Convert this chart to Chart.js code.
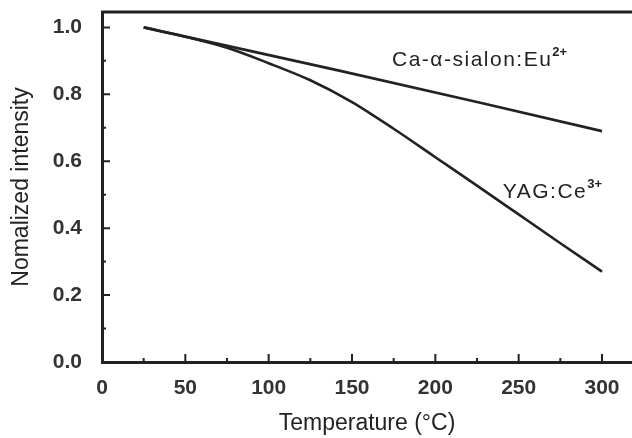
<!DOCTYPE html>
<html lang="en">
<head>
<meta charset="UTF-8" />
<title>Normalized intensity vs temperature</title>
<style>
  * { margin: 0; padding: 0; box-sizing: border-box; }
  body { background: #fff; width: 632px; height: 438px; overflow: hidden; }
</style>
</head>
<body>
<canvas id="quench" width="632" height="438"></canvas>

<script src="https://cdn.jsdelivr.net/npm/chart.js"></script>
<script>
  // values
  const sialonTemp = [25, 143, 227, 300];
  const sialonIntensity = [1.0, 0.87, 0.775, 0.69];
  const yagTemp = [25, 50, 75, 100, 125, 150, 175, 200, 225, 250, 275, 300];
  const yagIntensity = [1.0, 0.972, 0.939, 0.893, 0.842, 0.777, 0.697, 0.612, 0.527, 0.441, 0.355, 0.27];
  const xTicks = [0, 50, 100, 150, 200, 250, 300];
  const yTicks = [0, 0.2, 0.4, 0.6, 0.8, 1.0];

  const ink = '#222';
  const toPoints = (xs, ys) => xs.map((t, i) => ({ x: t, y: ys[i] }));

  // top border + inward tick marks (major and minor)
  const frame = {
    id: 'frame',
    afterDraw(chart) {
      const { ctx, chartArea: a, scales: { x, y } } = chart;
      ctx.save();
      ctx.strokeStyle = ink;
      ctx.lineWidth = 3;
      ctx.beginPath();
      ctx.moveTo(a.left - 1, a.top);
      ctx.lineTo(a.right + 2, a.top);
      ctx.stroke();

      ctx.lineWidth = 2;
      ctx.beginPath();
      xTicks.forEach((v, i) => {
        const px = x.getPixelForValue(v);
        ctx.moveTo(px, a.bottom); ctx.lineTo(px, a.bottom - 8);
        if (i < xTicks.length - 1) {
          const mx = x.getPixelForValue((v + xTicks[i + 1]) / 2);
          ctx.moveTo(mx, a.bottom); ctx.lineTo(mx, a.bottom - 4);
        }
      });
      yTicks.forEach((v, i) => {
        const py = y.getPixelForValue(v);
        ctx.moveTo(a.left, py); ctx.lineTo(a.left + 8, py);
        if (i < yTicks.length - 1) {
          const my = y.getPixelForValue((v + yTicks[i + 1]) / 2);
          ctx.moveTo(a.left, my); ctx.lineTo(a.left + 4, my);
        }
      });
      ctx.stroke();
      ctx.restore();
    }
  };

  // curve labels with superscript charge
  const labels = {
    id: 'labels',
    afterDraw(chart, args, opts) {
      const { ctx, scales: { x, y } } = chart;
      ctx.save();
      ctx.fillStyle = ink;
      ctx.textBaseline = 'alphabetic';
      opts.items.forEach(it => {
        const px = x.getPixelForValue(it.x);
        const py = y.getPixelForValue(it.y);
        ctx.letterSpacing = '1.5px';
        ctx.font = '21px "Liberation Sans", Arial, sans-serif';
        ctx.fillText(it.text, px, py);
        const w = ctx.measureText(it.text).width;
        ctx.letterSpacing = '0px';
        ctx.font = 'bold 13px "Liberation Sans", Arial, sans-serif';
        ctx.fillText(it.sup, px + w, py - 10);
      });
      ctx.restore();
    }
  };

  const tickFont = { family: '"Liberation Sans", Arial, sans-serif', size: 21, weight: 'bold' };
  const titleFont = { family: '"Liberation Sans", Arial, sans-serif', size: 23 };

  new Chart(document.getElementById('quench'), {
    type: 'scatter',
    data: {
      datasets: [
        {
          label: 'Ca-α-sialon:Eu2+',
          data: toPoints(sialonTemp, sialonIntensity),
          showLine: true,
          borderColor: ink,
          borderWidth: 2.6,
          pointRadius: 0,
          tension: 0
        },
        {
          label: 'YAG:Ce3+',
          data: toPoints(yagTemp, yagIntensity),
          showLine: true,
          borderColor: ink,
          borderWidth: 2.6,
          pointRadius: 0,
          cubicInterpolationMode: 'monotone'
        }
      ]
    },
    options: {
      responsive: false,
      animation: false,
      layout: { padding: { top: 12, right: 0, bottom: 0, left: 0 } },
      plugins: {
        legend: { display: false },
        tooltip: { enabled: false },
        labels: {
          items: [
            { text: 'Ca-α-sialon:Eu', sup: '2+', x: 174, y: 0.885 },
            { text: 'YAG:Ce', sup: '3+', x: 240.5, y: 0.49 }
          ]
        }
      },
      scales: {
        x: {
          type: 'linear',
          min: 0,
          max: 318,
          afterFit: s => { s.height = 76; s.paddingLeft = 0; s.paddingRight = 0; },
          afterBuildTicks: s => { s.ticks = xTicks.map(v => ({ value: v })); },
          ticks: { font: tickFont, color: '#333', padding: 14, includeBounds: false },
          grid: { display: false, drawTicks: false },
          border: { display: true, color: ink, width: 3 },
          title: { display: true, text: 'Temperature (°C)', font: titleFont, color: ink, padding: { top: 0, bottom: 1 } }
        },
        y: {
          min: 0,
          max: 1.046,
          afterFit: s => { s.width = 102; s.paddingTop = 0; s.paddingBottom = 0; },
          afterBuildTicks: s => { s.ticks = yTicks.map(v => ({ value: v })); },
          ticks: { font: tickFont, color: '#333', padding: 20, includeBounds: false, callback: v => v.toFixed(1) },
          grid: { display: false, drawTicks: false },
          border: { display: true, color: ink, width: 3 },
          title: { display: true, text: 'Nomalized intensity', font: titleFont, color: ink, padding: { top: 8, bottom: 0 } }
        }
      }
    },
    plugins: [frame, labels]
  });
</script>
</body>
</html>
